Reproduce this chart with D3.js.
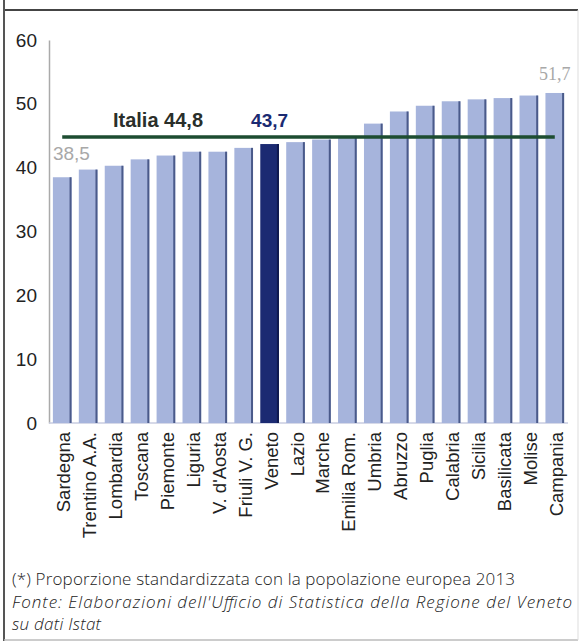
<!DOCTYPE html>
<html>
<head>
<meta charset="utf-8">
<script src="https://cdn.jsdelivr.net/npm/d3@7"></script>
<style>
  html, body { margin: 0; padding: 0; background: #fff; }
  svg { display: block; }
</style>
</head>
<body>
<script>
// Regional values (standardised proportion, %)
const regions = ["Sardegna", "Trentino A.A.", "Lombardia", "Toscana", "Piemonte", "Liguria",
  "V. d'Aosta", "Friuli V. G.", "Veneto", "Lazio", "Marche", "Emilia Rom.", "Umbria",
  "Abruzzo", "Puglia", "Calabria", "Sicilia", "Basilicata", "Molise", "Campania"];
const values = [38.5, 39.7, 40.3, 41.3, 41.9, 42.5, 42.5, 43.1, 43.7, 44.0, 44.4, 44.9, 46.9,
  48.8, 49.7, 50.4, 50.7, 50.9, 51.3, 51.7];
const italyValue = 44.8;
const highlighted = "Veneto";
const yTicks = [0, 10, 20, 30, 40, 50, 60];
const footnotes = [
  { text: "(*) Proporzione standardizzata con la popolazione europea 2013", italic: false, len: 503 },
  { text: "Fonte: Elaborazioni dell'Ufficio di Statistica della Regione del Veneto", italic: true, len: 560 },
  { text: "su dati Istat", italic: true, len: 89 }
];

const W = 580, H = 643;
const svg = d3.select("body").append("svg").attr("width", W).attr("height", H);

// Frame
svg.append("line").attr("x1", 3).attr("x2", 578).attr("y1", 10).attr("y2", 10)
  .attr("stroke", "#444").attr("stroke-width", 2);
svg.append("line").attr("x1", 4).attr("x2", 4).attr("y1", 0).attr("y2", 641)
  .attr("stroke", "#555").attr("stroke-width", 2);
svg.append("line").attr("x1", 4).attr("x2", 578).attr("y1", 640).attr("y2", 640)
  .attr("stroke", "#bbb").attr("stroke-width", 1.5);
svg.append("line").attr("x1", 578).attr("x2", 578).attr("y1", 10).attr("y2", 640)
  .attr("stroke", "#ddd").attr("stroke-width", 1);

const font = "'Liberation Sans', Arial, sans-serif";
const fmt = v => d3.format(".1f")(v).replace(".", ",");

const x = d3.scaleBand().domain(regions).range([49, 568]).paddingInner(0.28).paddingOuter(0.15);
const y = d3.scaleLinear().domain([0, 60]).range([423, 40]);

// Y axis
const yAxis = svg.append("g").attr("transform", "translate(49,0)")
  .call(d3.axisLeft(y).tickValues(yTicks).tickSize(0).tickPadding(12));
yAxis.select(".domain").attr("stroke", "#aaa").attr("stroke-width", 1.5);
yAxis.selectAll("text").attr("font-family", font).attr("font-size", 19).attr("fill", "#222");

// X baseline
svg.append("line").attr("x1", 49).attr("x2", 568).attr("y1", y(0)).attr("y2", y(0))
  .attr("stroke", "#c8cce0").attr("stroke-width", 1.5);

// Bars
const bars = svg.append("g").selectAll("g").data(regions).join("g");
bars.append("rect")
  .attr("x", d => x(d))
  .attr("y", (d, i) => y(values[i]))
  .attr("width", x.bandwidth())
  .attr("height", (d, i) => y(0) - y(values[i]))
  .attr("fill", d => d === highlighted ? "#1b2a72" : "#a6b4dc");
// darker shaded right edge of each bar
bars.append("rect")
  .attr("x", d => x(d) + x.bandwidth() - 2)
  .attr("y", (d, i) => y(values[i]))
  .attr("width", 2)
  .attr("height", (d, i) => y(0) - y(values[i]))
  .attr("fill", d => d === highlighted ? "#0f1a50" : "#4a5a8a");

// Italy average line
svg.append("line")
  .attr("x1", x(regions[0]) + x.bandwidth() / 2)
  .attr("x2", x(regions[regions.length - 1]) + x.bandwidth() / 2)
  .attr("y1", y(italyValue)).attr("y2", y(italyValue))
  .attr("stroke", "#1d4d31").attr("stroke-width", 3.5);
svg.append("text")
  .attr("x", 158).attr("y", y(italyValue) - 10)
  .attr("text-anchor", "middle")
  .attr("font-family", font).attr("font-size", 20).attr("font-weight", "bold")
  .attr("fill", "#2a2f2a")
  .text("Italia " + fmt(italyValue));

// Value labels
const iVen = regions.indexOf(highlighted);
svg.append("text")
  .attr("x", x(highlighted) + x.bandwidth() / 2).attr("y", y(italyValue) - 10)
  .attr("text-anchor", "middle")
  .attr("font-family", font).attr("font-size", 19).attr("font-weight", "bold")
  .attr("fill", "#1b2a72")
  .text(fmt(values[iVen]));
svg.append("text")
  .attr("x", x(regions[0])).attr("y", y(values[0]) - 17)
  .attr("font-family", font).attr("font-size", 19)
  .attr("fill", "#a8a8a8")
  .text(fmt(values[0]));
const last = regions.length - 1;
svg.append("text")
  .attr("x", x(regions[last]) + x.bandwidth() / 2).attr("y", y(values[last]) - 13)
  .attr("text-anchor", "middle")
  .attr("font-family", "'Liberation Serif', serif").attr("font-size", 18)
  .attr("fill", "#a8a8a8")
  .text(fmt(values[last]));

// Category labels
svg.append("g").selectAll("text").data(regions).join("text")
  .attr("transform", d => `translate(${x(d) + x.bandwidth() / 2 + 8},${y(0) + 9}) rotate(-90)`)
  .attr("text-anchor", "end")
  .attr("font-family", font).attr("font-size", 18.5).attr("fill", "#222")
  .text(d => d);

// Footnotes
svg.append("g").selectAll("text").data(footnotes).join("text")
  .attr("x", 12).attr("y", (d, i) => 585 + i * 22.5)
  .attr("font-family", "'Open Sans', sans-serif").attr("font-size", 17)
  .attr("font-weight", 300)
  .attr("font-style", d => d.italic ? "italic" : "normal")
  .attr("textLength", d => d.len)
  .attr("lengthAdjust", "spacing")
  .attr("fill", "#222")
  .text(d => d.text);
</script>
</body>
</html>
